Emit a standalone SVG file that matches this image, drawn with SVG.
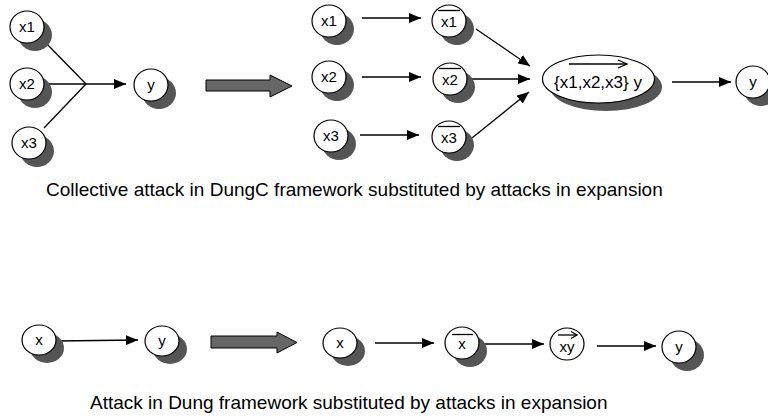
<svg xmlns="http://www.w3.org/2000/svg" width="768" height="420" viewBox="0 0 768 420">
<style>
.n{fill:#fff;stroke:#000;stroke-width:1.2}
.s{fill:#555;stroke:none}
.t{font-family:"Liberation Sans",Arial,sans-serif;font-size:15px;text-anchor:middle;fill:#000}
.c{font-family:"Liberation Sans",Arial,sans-serif;font-size:19px;fill:#000}
.e{stroke:#000;stroke-width:1.3;fill:none}
.ea{stroke:#000;stroke-width:1.3;fill:none;marker-end:url(#ah)}
.big{fill:#666;stroke:#000;stroke-width:1}
</style>
<defs>
<marker id="ah" viewBox="0 0 12 10" refX="12" refY="5" markerWidth="12" markerHeight="10" markerUnits="userSpaceOnUse" orient="auto">
<path d="M0,0 L12,5 L0,10 Z" fill="#000"/>
</marker>
</defs>
<rect width="768" height="420" fill="#fff"/>

<g id="connectors">
<line class="e" x1="43" y1="40" x2="86" y2="84"/>
<line class="e" x1="46" y1="84" x2="86" y2="84"/>
<line class="e" x1="44" y1="128" x2="86" y2="84"/>
<line class="ea" x1="86" y1="84" x2="126" y2="84"/>
<line class="ea" x1="362" y1="18" x2="421" y2="18"/>
<line class="ea" x1="362" y1="77" x2="421" y2="77"/>
<line class="ea" x1="360" y1="135" x2="419" y2="135"/>
<line class="ea" x1="476" y1="29" x2="530" y2="66"/>
<line class="ea" x1="470" y1="79" x2="530" y2="79"/>
<line class="ea" x1="472" y1="138" x2="529" y2="92"/>
<line class="ea" x1="672" y1="82" x2="731" y2="82"/>
<line class="ea" x1="56" y1="341" x2="138" y2="340"/>
<line class="ea" x1="375" y1="343" x2="434" y2="343"/>
<line class="ea" x1="480" y1="344" x2="544" y2="344"/>
<line class="ea" x1="597" y1="346" x2="656" y2="346"/>
</g>

<g id="bigarrow1"><path class="big" d="M206,80 H270 V75 L292,86 L270,97 V91 H206 Z"/></g>
<g id="bigarrow2"><path class="big" d="M211,336 H277 V332 L297,342.5 L277,353 V348 H211 Z"/></g>

<g id="n_x1"><ellipse class="s" cx="35" cy="35" rx="17" ry="16"/><ellipse class="n" cx="27" cy="27" rx="17" ry="16"/><text class="t" x="27" y="32">x1</text></g>
<g id="n_x2"><ellipse class="s" cx="35" cy="92" rx="17" ry="16"/><ellipse class="n" cx="27" cy="84" rx="17" ry="16"/><text class="t" x="27" y="89">x2</text></g>
<g id="n_x3"><ellipse class="s" cx="37" cy="151" rx="17" ry="16"/><ellipse class="n" cx="29" cy="143" rx="17" ry="16"/><text class="t" x="29" y="148">x3</text></g>
<g id="n_y1"><ellipse class="s" cx="159" cy="93" rx="17" ry="16"/><ellipse class="n" cx="151" cy="85" rx="17" ry="16"/><text class="t" x="151" y="90">y</text></g>

<g id="n_x1b"><ellipse class="s" cx="337" cy="29" rx="17" ry="16"/><ellipse class="n" cx="329" cy="21" rx="17" ry="16"/><text class="t" x="329" y="26">x1</text></g>
<g id="n_x2b"><ellipse class="s" cx="337" cy="85" rx="17" ry="16"/><ellipse class="n" cx="329" cy="77" rx="17" ry="16"/><text class="t" x="329" y="82">x2</text></g>
<g id="n_x3b"><ellipse class="s" cx="339" cy="144" rx="17" ry="16"/><ellipse class="n" cx="331" cy="136" rx="17" ry="16"/><text class="t" x="331" y="141">x3</text></g>

<g id="n_x1bar"><ellipse class="s" cx="457" cy="29" rx="17" ry="16"/><ellipse class="n" cx="449" cy="21" rx="17" ry="16"/><text class="t" x="449" y="27">x1</text><line class="e" x1="438" y1="10.5" x2="460" y2="10.5" stroke-width="1.2"/></g>
<g id="n_x2bar"><ellipse class="s" cx="458" cy="87" rx="17" ry="16"/><ellipse class="n" cx="450" cy="79" rx="17" ry="16"/><text class="t" x="450" y="85">x2</text><line class="e" x1="439" y1="68.5" x2="461" y2="68.5" stroke-width="1.2"/></g>
<g id="n_x3bar"><ellipse class="s" cx="457" cy="145" rx="17" ry="16"/><ellipse class="n" cx="449" cy="137" rx="17" ry="16"/><text class="t" x="449" y="143">x3</text><line class="e" x1="438" y1="126.5" x2="460" y2="126.5" stroke-width="1.2"/></g>

<g id="n_coll"><ellipse class="s" cx="606" cy="87" rx="56" ry="24"/><ellipse class="n" cx="598.5" cy="79" rx="56" ry="24"/><text class="t" x="598" y="88" style="font-size:17px">{x1,x2,x3} y</text><line class="e" x1="569" y1="64" x2="627" y2="64" stroke-width="1.2"/><path d="M618,60 L627,64 L618,68" class="e" stroke-width="1.2"/></g>
<g id="n_y2"><ellipse class="s" cx="761" cy="90" rx="17" ry="16"/><ellipse class="n" cx="753" cy="82" rx="17" ry="16"/><text class="t" x="753" y="87">y</text></g>

<text class="c" x="46" y="196">Collective attack in DungC framework substituted by attacks in expansion</text>

<g id="n_x"><ellipse class="s" cx="47" cy="348" rx="17" ry="15"/><ellipse class="n" cx="39" cy="340" rx="17" ry="15"/><text class="t" x="39" y="345">x</text></g>
<g id="n_y3"><ellipse class="s" cx="170" cy="349" rx="17" ry="15"/><ellipse class="n" cx="162" cy="341" rx="17" ry="15"/><text class="t" x="162" y="346">y</text></g>
<g id="n_x4"><ellipse class="s" cx="348" cy="351" rx="17" ry="15"/><ellipse class="n" cx="340" cy="343" rx="17" ry="15"/><text class="t" x="340" y="348">x</text></g>
<g id="n_xbar"><ellipse class="s" cx="470" cy="351" rx="17" ry="16"/><ellipse class="n" cx="462" cy="343" rx="17" ry="16"/><text class="t" x="462" y="349">x</text><line class="e" x1="452" y1="334.5" x2="473" y2="334.5" stroke-width="1.2"/></g>
<g id="n_xy"><ellipse class="n" cx="567" cy="344" rx="17" ry="16"/><text class="t" x="567" y="352">xy</text><line class="e" x1="558" y1="335" x2="577" y2="335" stroke-width="1.1"/><path d="M571,331.5 L577,335 L571,338.5" class="e" stroke-width="1.1"/></g>
<g id="n_y4"><ellipse class="s" cx="687" cy="355" rx="17" ry="16"/><ellipse class="n" cx="679" cy="347" rx="17" ry="16"/><text class="t" x="679" y="352">y</text></g>

<text class="c" x="90" y="409">Attack in Dung framework substituted by attacks in expansion</text>
</svg>
